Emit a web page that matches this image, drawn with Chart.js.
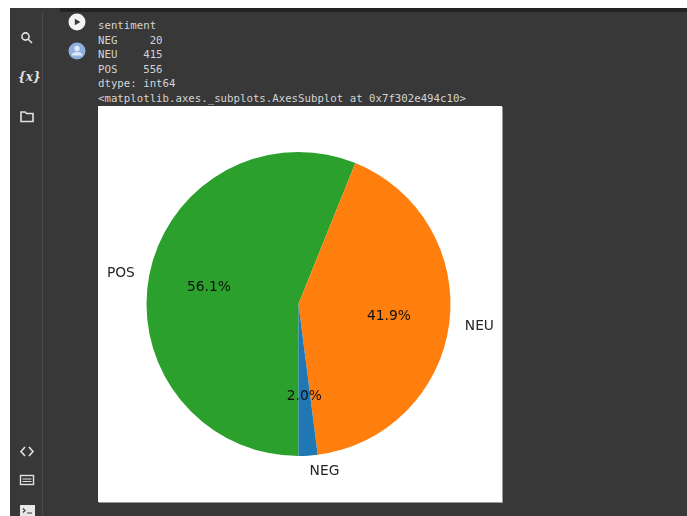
<!DOCTYPE html>
<html>
<head>
<meta charset="utf-8">
<script src="https://cdn.jsdelivr.net/npm/chart.js@4"></script>
<style>
html, body { margin: 0; padding: 0; background: #fff; overflow: hidden; }
#page { position: relative; width: 687px; height: 516px; overflow: hidden; background: #fff; }
#main { position: absolute; left: 10px; top: 8px; right: 0; bottom: 0; background: #383838; }
#topbar { position: absolute; left: 60px; top: 8px; right: 0; height: 4px; background: #232323; }
#divider { position: absolute; left: 42px; top: 12px; bottom: 0; width: 1px; background: #4a4a4a; }
#console { position: absolute; left: 98px; top: 19px; margin: 0; color: #d4d4d4;
  font: 10.73px/14.5px "DejaVu Sans Mono", monospace; white-space: pre; }
#plot { position: absolute; left: 98px; top: 106px; width: 404px; height: 396px; background: #fff;
  box-shadow: 1px 1px 0 #9a9a9a; }
#plot canvas { display: block; }
svg.icon { position: absolute; overflow: visible; }
</style>
</head>
<body>
<div id="page">
  <div id="main"></div>
  <div id="topbar"></div>
  <div id="divider"></div>

  <svg class="icon" style="left:0;top:0" width="687" height="516" fill="none" stroke="#e2e2e2" stroke-width="1.6">
    <!-- search -->
    <circle cx="25.5" cy="36.5" r="3.6"/><path d="M28.2 39.2 L32 43"/>
    <!-- folder -->
    <path d="M21 112 h4 l1.5 1.5 h6.5 v8 h-12 z"/>
    <!-- code -->
    <path d="M25 447 l-4 4.5 4 4.5 M29 447 l4 4.5 -4 4.5"/>
    <!-- keyboard box -->
    <rect x="20.5" y="475.5" width="13" height="9" stroke-width="1.4"/>
    <path d="M22.5 479 h9 M22.5 481.5 h9" stroke-width="1"/>
    <!-- terminal -->
    <rect x="20" y="505" width="15" height="11" fill="#e8e8e8" stroke="none"/>
    <path d="M23 508.5 l2 2 -2 2 M27 513 h5" stroke="#383838" stroke-width="1.2"/>
    <!-- run button -->
    <circle cx="77" cy="22" r="8.5" fill="#f4f4f4" stroke="none"/>
    <path d="M74.8 18.8 L80.4 22 L74.8 25.2 Z" fill="#383838" stroke="none"/>
    <!-- avatar -->
    <circle cx="77" cy="51" r="8.5" fill="#8fb0dd" stroke="none"/>
    <circle cx="77" cy="48.5" r="2.7" fill="#dfe8f5" stroke="none"/>
    <path d="M71.5 55.5 a5.5 3.6 0 0 1 11 0 z" fill="#dfe8f5" stroke="none"/>
  </svg>
  <div style="position:absolute;left:18px;top:70px;width:18px;text-align:center;color:#e2e2e2;font:italic bold 12px 'DejaVu Serif',serif;">{<span>x</span>}</div>

  <pre id="console">sentiment
NEG     20
NEU    415
POS    556
dtype: int64
&lt;matplotlib.axes._subplots.AxesSubplot at 0x7f302e494c10&gt;</pre>

  <div id="plot"><canvas id="pieChart" width="404" height="396"></canvas></div>
</div>

<script>
// value_counts output, same order as the console listing
const categories = ['NEG', 'NEU', 'POS'];
const counts = [20, 415, 556];
const percentLabels = ['2.0%', '41.9%', '56.1%'];
const sliceColors = ['#1f77b4', '#ff7f0e', '#2ca02c'];

// matplotlib runs counter-clockwise, Chart.js clockwise, so flip the order
const flip = (arr) => arr.slice().reverse();

// labels sit at 1.1 radius, percentages at 0.6 radius like plt.pie
const pieLabels = {
    id: 'pieLabels',
    afterDatasetsDraw(chart) {
        const ctx = chart.ctx;
        const names = flip(categories);
        const pcts = flip(percentLabels);
        ctx.save();
        ctx.font = '13.8px "DejaVu Sans"';
        ctx.textBaseline = 'middle';
        chart.getDatasetMeta(0).data.forEach((arc, i) => {
            const mid = (arc.startAngle + arc.endAngle) / 2;
            const cos = Math.cos(mid);
            const sin = Math.sin(mid);

            ctx.fillStyle = '#111';
            ctx.textAlign = 'center';
            ctx.fillText(pcts[i], arc.x + cos * arc.outerRadius * 0.6, arc.y + sin * arc.outerRadius * 0.6 + 1);

            ctx.fillStyle = '#262626';
            ctx.textAlign = cos >= 0 ? 'left' : 'right';
            ctx.fillText(names[i], arc.x + cos * arc.outerRadius * 1.1 + 0.5, arc.y + sin * arc.outerRadius * 1.1 + 1);
        });
        ctx.restore();
    }
};

new Chart(document.getElementById('pieChart').getContext('2d'), {
    type: 'pie',
    data: {
        labels: flip(categories),
        datasets: [{
            data: flip(counts),
            backgroundColor: flip(sliceColors),
            borderWidth: 0
        }]
    },
    options: {
        responsive: false,
        animation: false,
        rotation: 180,
        layout: { padding: { left: 46, right: 49, top: 46, bottom: 46 } },
        plugins: {
            legend: { display: false },
            tooltip: { enabled: false }
        }
    },
    plugins: [pieLabels]
});
</script>
</body>
</html>
